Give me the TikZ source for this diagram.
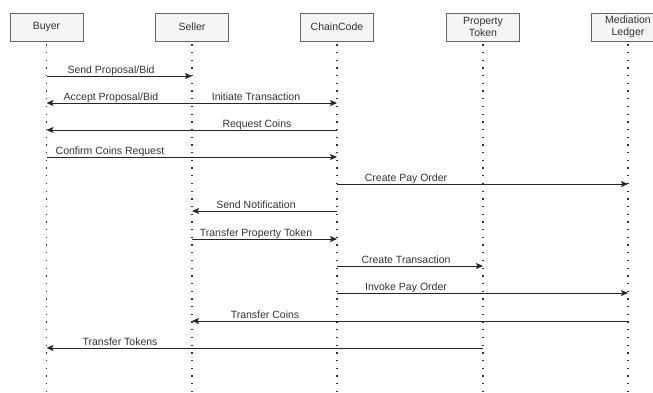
\documentclass[tikz,border=0pt]{standalone}
\usepackage{fontspec}
\setmainfont{Liberation Sans}
\usetikzlibrary{arrows.meta}
\definecolor{boxfill}{HTML}{F5F5F5}
\definecolor{boxline}{HTML}{666666}
\definecolor{txt}{HTML}{333333}
\begin{document}
\begin{tikzpicture}[x=1pt,y=-1pt,
  actor/.style={draw=boxline, fill=boxfill, minimum width=73pt, minimum height=28pt, inner sep=0pt, align=center, font=\fontsize{10.5}{12}\selectfont, text=txt},
  life/.style={line width=1.3pt, dash pattern=on 1.3pt off 6.4pt, black!80},
  msg/.style={draw=black!85, line width=0.9pt, -{Stealth[length=7pt,width=6pt,inset=1.5pt]}},
  lbl/.style={font=\fontsize{10.5}{12}\selectfont, text=txt, anchor=base, inner sep=0pt}]
\useasboundingbox (0,0) rectangle (653,392);
% actors
\node[actor] (buyer) at (46.5,27) {Buyer};
\node[actor] (seller) at (192,27) {Seller};
\node[actor] (chain) at (337,27) {ChainCode};
\node[actor] (token) at (483,27) {Property\\Token};
\node[actor] (ledger) at (628,27) {Mediation\\Ledger};
% lifeline ends
\coordinate (bEnd) at (46.5,395);
\coordinate (sEnd) at (192,395);
\coordinate (cEnd) at (337,395);
\coordinate (tEnd) at (483,395);
\coordinate (lEnd) at (628,395);
\draw[life] (buyer.south) ++(0,3) -- (bEnd);
\draw[life] (seller.south) ++(0,3) -- (sEnd);
\draw[life] (chain.south) ++(0,3) -- (cEnd);
\draw[life] (token.south) ++(0,3) -- (tEnd);
\draw[life] (ledger.south) ++(0,3) -- (lEnd);
% message rows
\coordinate (r1) at (0,76);
\coordinate (r2) at (0,103);
\coordinate (r3) at (0,130);
\coordinate (r4) at (0,157);
\coordinate (r5) at (0,184);
\coordinate (r6) at (0,211);
\coordinate (r7) at (0,239);
\coordinate (r8) at (0,266);
\coordinate (r9) at (0,293);
\coordinate (r10) at (0,321);
\coordinate (r11) at (0,348);
% messages
\draw[msg] (buyer |- r1) -- (seller |- r1);
\node[lbl] (m1) at (111,73) {Send Proposal/Bid};
\draw[msg] (seller |- r2) -- (buyer |- r2);
\node[lbl] (m2) at (111,100) {Accept Proposal/Bid};
\draw[msg] (seller |- r2) -- (chain |- r2);
\node[lbl] (m3) at (256,100) {Initiate Transaction};
\draw[msg] (chain |- r3) -- (buyer |- r3);
\node[lbl] (m4) at (257,127) {Request Coins};
\draw[msg] (buyer |- r4) -- (chain |- r4);
\node[lbl] (m5) at (110,154) {Confirm Coins Request};
\draw[msg] (chain |- r5) -- (ledger |- r5);
\node[lbl] (m6) at (406,181.5) {Create Pay Order};
\draw[msg] (chain |- r6) -- (seller |- r6);
\node[lbl] (m7) at (256,208.5) {Send Notification};
\draw[msg] (seller |- r7) -- (chain |- r7);
\node[lbl] (m8) at (256,236) {Transfer Property Token};
\draw[msg] (chain |- r8) -- (token |- r8);
\node[lbl] (m9) at (406,263) {Create Transaction};
\draw[msg] (chain |- r9) -- (ledger |- r9);
\node[lbl] (m10) at (406,290.5) {Invoke Pay Order};
\draw[msg] (ledger |- r10) -- (seller |- r10);
\node[lbl] (m11) at (265,318.5) {Transfer Coins};
\draw[msg] (token |- r11) -- (buyer |- r11);
\node[lbl] (m12) at (120,345.5) {Transfer Tokens};
\end{tikzpicture}
\end{document}
